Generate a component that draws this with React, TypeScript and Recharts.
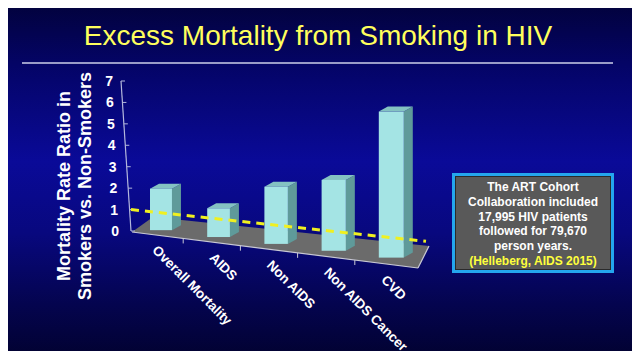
import { ComposedChart, Bar, XAxis, YAxis, ReferenceLine, ReferenceArea, Label } from "recharts";

const categories = ["Overall Mortality", "AIDS", "Non AIDS", "Non AIDS Cancer", "CVD"];
const rateRatios = [1.94, 1.3, 2.5, 3.0, 6.0];
const yTicks = [0, 1, 2, 3, 4, 5, 6, 7];
const referenceRatio = 1;
const noteLines = [
  "The ART Cohort",
  "Collaboration included",
  "17,995 HIV patients",
  "followed for 79,670",
  "person years.",
];
const noteSource = "(Helleberg, AIDS 2015)";

const data = categories.map((name, i) => ({ name, ratio: rateRatios[i] }));

const FONT = '"Liberation Sans", Arial, sans-serif';
const PLOT_LEFT = 132;
const PLOT_BOTTOM = 231;
const FLOOR_SLOPE = 0.12;

// fake 3d box, bars further right sit lower and a bit bigger (perspective)
function Bar3D(props: any) {
  const { x, y, width, height } = props;
  if (height == null || isNaN(height)) return null;
  const f = 1 + (x - PLOT_LEFT - 20) * 0.0006;
  const w = width * f;
  const h = height * f;
  const bottom = y + height + (x - PLOT_LEFT) * FLOOR_SLOPE - 3;
  const top = bottom - h;
  const dx = 9;
  const dz = 5;
  return (
    <g>
      <polygon
        points={`${x + w},${top} ${x + w + dx},${top - dz} ${x + w + dx},${bottom - dz} ${x + w},${bottom}`}
        fill="#5f9a9a"
      />
      <polygon
        points={`${x},${top} ${x + dx},${top - dz} ${x + w + dx},${top - dz} ${x + w},${top}`}
        fill="#84c2c2"
      />
      <rect x={x} y={top} width={w} height={h} fill="#a4e4e4" />
    </g>
  );
}

// grey floor + slanted value axis
function Floor(props: any) {
  const { x, y, width, height } = props;
  const L = x;
  const R = x + width;
  const B = y + height;
  const T = y;
  const fl = [L, B + 1];
  const fr = [R, B + 37];
  const br = [R + 11, B + 15];
  const bl = [L + 21, B - 14];
  const edgeSlope = (fr[1] - fl[1]) / (fr[0] - fl[0]);
  const axisAt = (yy: number) => L - 1 - ((B - yy) * 10) / height;
  return (
    <g>
      <polygon points={[fl, fr, br, bl].map((p) => p.join(",")).join(" ")} fill="#6b6b6b" />
      <line x1={fl[0]} y1={fl[1]} x2={fr[0]} y2={fr[1]} stroke="#c9c9d4" strokeWidth={1.2} />
      <line x1={fr[0]} y1={fr[1]} x2={br[0]} y2={br[1]} stroke="#c9c9d4" strokeWidth={1.2} />
      {[1, 2, 3, 4].map((i) => {
        const xi = L + (width * i) / 5 - 6;
        const yi = fl[1] + (xi - L) * edgeSlope;
        return <line key={i} x1={xi} y1={yi} x2={xi} y2={yi + 5} stroke="#c9c9d4" strokeWidth={1} />;
      })}
      <line x1={axisAt(B)} y1={B} x2={axisAt(T)} y2={T} stroke="#b4b8dc" strokeWidth={1.2} />
      {yTicks.map((t) => {
        const yy = B - (t * height) / 7;
        const xx = axisAt(yy);
        return <line key={t} x1={xx} y1={yy} x2={xx + 4} y2={yy} stroke="#b4b8dc" strokeWidth={1} />;
      })}
    </g>
  );
}

function DashedRef(props: any) {
  const { x1, y1, x2 } = props;
  const ex = x2 + 8;
  return (
    <line
      x1={x1 - 1}
      y1={y1}
      x2={ex}
      y2={y1 + (ex - x1) * 0.108}
      stroke="#f0f020"
      strokeWidth={3}
      strokeDasharray="8 6"
    />
  );
}

function YTick(props: any) {
  const { y, payload } = props;
  const right = 119 - (PLOT_BOTTOM - y) * 0.04;
  return (
    <text x={right} y={y} dy="0.36em" textAnchor="end" fill="#ffffff" fontSize={14} fontWeight="bold" fontFamily={FONT}>
      {payload.value}
    </text>
  );
}

function XTick(props: any) {
  const { x, payload } = props;
  const bx = x - 9;
  const by = PLOT_BOTTOM + 20 + (x - PLOT_LEFT - 28) * 0.13;
  return (
    <text
      x={bx}
      y={by}
      transform={`rotate(45 ${bx} ${by})`}
      fill="#ffffff"
      fontSize={13.5}
      fontWeight="bold"
      fontFamily={FONT}
    >
      {payload.value}
    </text>
  );
}

function YTitle() {
  const cy = 186;
  const common = {
    textAnchor: "middle" as const,
    dominantBaseline: "central" as const,
    fill: "#ffffff",
    fontSize: 18,
    fontWeight: "bold",
    fontFamily: FONT,
  };
  return (
    <g>
      <text x={64} y={cy} transform={`rotate(-90 64 ${cy})`} {...common}>
        Mortality Rate Ratio in
      </text>
      <text x={85} y={cy} transform={`rotate(-90 85 ${cy})`} {...common}>
        Smokers vs. Non-Smokers
      </text>
    </g>
  );
}

export default function App() {
  return (
    <div
      style={{
        position: "relative",
        width: 640,
        height: 359,
        margin: -8,
        overflow: "hidden",
        fontFamily: FONT,
        background:
          "linear-gradient(to bottom, #02023a 0%, #040466 18%, #0a0a98 45%, #08087e 65%, #04044e 85%, #020230 100%)",
      }}
    >
      <div
        style={{
          position: "absolute",
          top: 20,
          left: 0,
          width: 636,
          textAlign: "center",
          color: "#ffff5c",
          fontSize: 28,
          lineHeight: "32px",
        }}
      >
        Excess Mortality from Smoking in HIV
      </div>
      <div style={{ position: "absolute", left: 22, top: 62, width: 591, height: 1.5, background: "#9a9cc8" }} />

      <div style={{ position: "absolute", left: 0, top: 0 }}>
        <ComposedChart
          width={640}
          height={359}
          data={data}
          margin={{ top: 81, right: 222, left: 92, bottom: 98 }}
        >
          <ReferenceArea y1={0} y2={7} shape={Floor} ifOverflow="visible" />
          <XAxis dataKey="name" height={30} axisLine={false} tickLine={false} interval={0} tick={<XTick />} />
          <YAxis
            width={40}
            domain={[0, 7]}
            ticks={yTicks}
            interval={0}
            axisLine={false}
            tickLine={false}
            tick={<YTick />}
          >
            <Label content={<YTitle />} />
          </YAxis>
          <Bar dataKey="ratio" barSize={22} shape={<Bar3D />} isAnimationActive={false} />
          <ReferenceLine y={referenceRatio} shape={DashedRef} ifOverflow="visible" />
        </ComposedChart>
      </div>

      <div
        style={{
          position: "absolute",
          left: 452,
          top: 173,
          width: 162,
          height: 100,
          boxSizing: "border-box",
          background: "#595959",
          border: "3px solid #24a6ee",
          boxShadow: "inset 0 0 0 1px #2a2a2a",
          color: "#ffffff",
          fontWeight: "bold",
          fontSize: 12,
          lineHeight: "14.8px",
          textAlign: "center",
          paddingTop: 4,
        }}
      >
        {noteLines.map((l) => (
          <div key={l}>{l}</div>
        ))}
        <div style={{ color: "#ffff3c" }}>{noteSource}</div>
      </div>
    </div>
  );
}
